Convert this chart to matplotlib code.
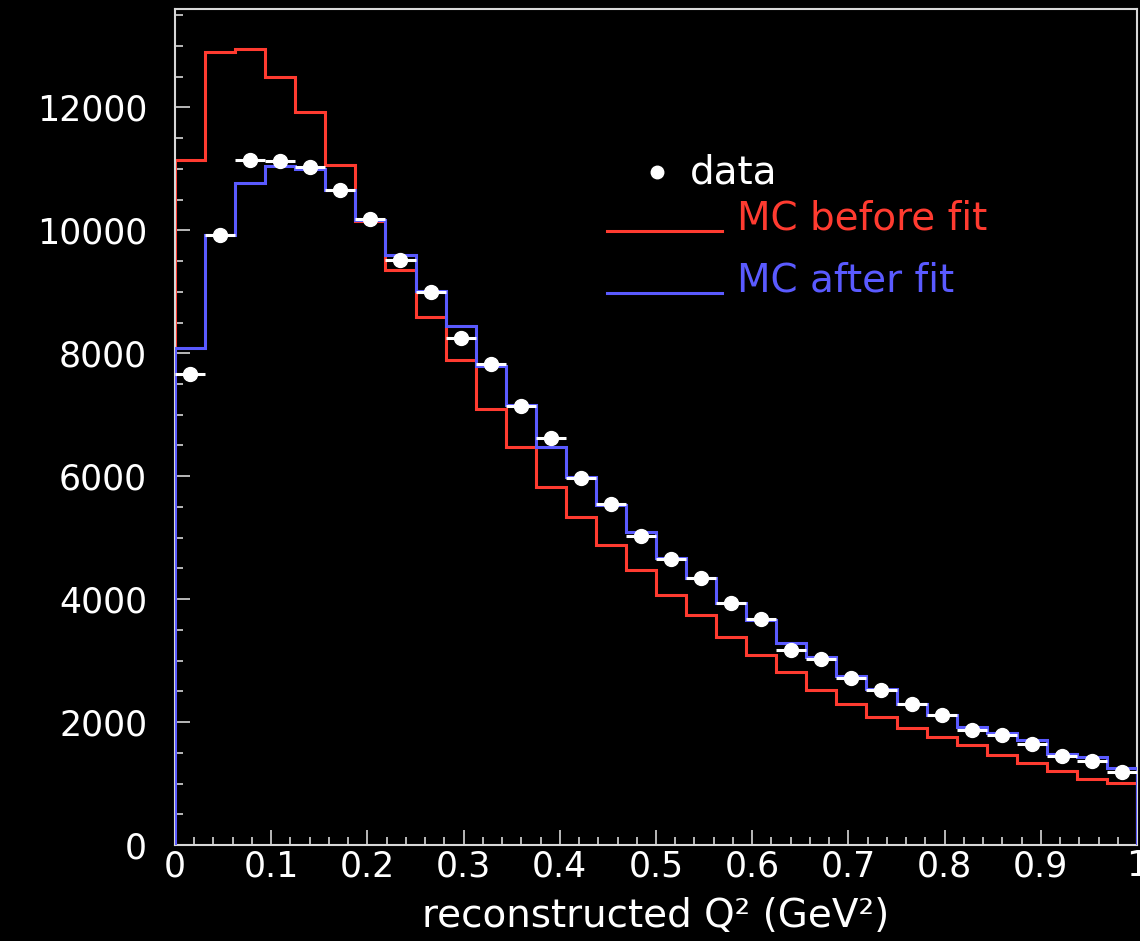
import numpy as np
import matplotlib
matplotlib.use("Agg")
import matplotlib.pyplot as plt
from matplotlib.ticker import MultipleLocator, FixedLocator, FixedFormatter

# ---- data (32 bins from 0 to 1 GeV^2) ----
bin_edges = np.linspace(0.0, 1.0, 33)
mc_before = [11140, 12900, 12950, 12500, 11920, 11060, 10150, 9350, 8590, 7890,
             7100, 6480, 5830, 5340, 4880, 4470, 4065, 3740, 3390, 3090,
             2820, 2520, 2290, 2090, 1900, 1750, 1630, 1460, 1330, 1210,
             1070, 1010]
mc_after = [8080, 9920, 10770, 11040, 11000, 10650, 10160, 9590, 9020, 8440,
            7790, 7150, 6480, 5990, 5530, 5100, 4670, 4340, 3940, 3660,
            3280, 3060, 2750, 2530, 2300, 2110, 1920, 1820, 1710, 1480,
            1430, 1250]
data_vals = [7670, 9920, 11150, 11130, 11030, 10650, 10190, 9510, 9000, 8250,
             7820, 7140, 6620, 5970, 5540, 5020, 4660, 4340, 3940, 3670,
             3170, 3020, 2710, 2520, 2300, 2120, 1870, 1790, 1640, 1450,
             1370, 1180]
x_ticks = [0.0, 0.1, 0.2, 0.3, 0.4, 0.5, 0.6, 0.7, 0.8, 0.9, 1.0]
x_tick_labels = ["0", "0.1", "0.2", "0.3", "0.4", "0.5", "0.6", "0.7", "0.8", "0.9", "1"]
y_ticks = [0, 2000, 4000, 6000, 8000, 10000, 12000]
y_tick_labels = ["0", "2000", "4000", "6000", "8000", "10000", "12000"]
legend_labels = ["data", "MC before fit", "MC after fit"]

RED = "#ff3b30"
BLUE = "#5a5aff"
WHITE = "#ffffff"
FRAME = "#d8d8d8"

plt.rcParams['font.family'] = ['DejaVu Sans']

fig = plt.figure(figsize=(11.40, 9.41), dpi=100, facecolor="black")
ax = fig.add_axes([175/1140, 1 - 845/941, 962/1140, 836/941])
ax.set_facecolor("black")

edges = np.asarray(bin_edges)
centers = 0.5 * (edges[:-1] + edges[1:])
half_w = 0.5 * (edges[1] - edges[0])

ax.stairs(mc_before, edges, baseline=0, color=RED, lw=2.2, zorder=2)
ax.stairs(mc_after, edges, baseline=0, color=BLUE, lw=2.2, zorder=3)
ax.errorbar(centers, data_vals, xerr=half_w, fmt='o', color=WHITE, ms=10,
            elinewidth=2.2, capsize=0, zorder=4)

ax.set_xlim(0, 1)
ax.set_ylim(0, 13600)

ax.xaxis.set_major_locator(FixedLocator(x_ticks))
ax.xaxis.set_major_formatter(FixedFormatter(x_tick_labels))
ax.xaxis.set_minor_locator(MultipleLocator(0.02))
ax.yaxis.set_major_locator(FixedLocator(y_ticks))
ax.yaxis.set_major_formatter(FixedFormatter(y_tick_labels))
ax.yaxis.set_minor_locator(MultipleLocator(500))

ax.tick_params(axis='both', which='both', direction='in', colors=FRAME, width=1.2)
ax.tick_params(axis='both', which='major', length=11)
ax.tick_params(axis='both', which='minor', length=6)
ax.tick_params(axis='x', which='major', labelsize=25, labelcolor=WHITE, pad=3)
ax.tick_params(axis='y', which='major', labelsize=25, labelcolor=WHITE, pad=20)

for sp in ax.spines.values():
    sp.set_color(FRAME)
    sp.set_linewidth(1.5)

ax.set_xlabel("reconstructed Q² (GeV²)", fontsize=28, color=WHITE, labelpad=10)

# legend drawn manually (axes fraction)
ax.plot([0.501], [0.805], 'o', color=WHITE, ms=9, transform=ax.transAxes, zorder=5)
ax.text(0.535, 0.805, legend_labels[0], color=WHITE, fontsize=28,
        va='center', ha='left', transform=ax.transAxes)
ax.plot([0.449, 0.569], [0.734, 0.734], color=RED, lw=2.2, transform=ax.transAxes)
ax.text(0.584, 0.750, legend_labels[1], color=RED, fontsize=28,
        va='center', ha='left', transform=ax.transAxes)
ax.plot([0.449, 0.569], [0.660, 0.660], color=BLUE, lw=2.2, transform=ax.transAxes)
ax.text(0.584, 0.675, legend_labels[2], color=BLUE, fontsize=28,
        va='center', ha='left', transform=ax.transAxes)

fig.savefig("out.png", dpi=100, facecolor="black")
